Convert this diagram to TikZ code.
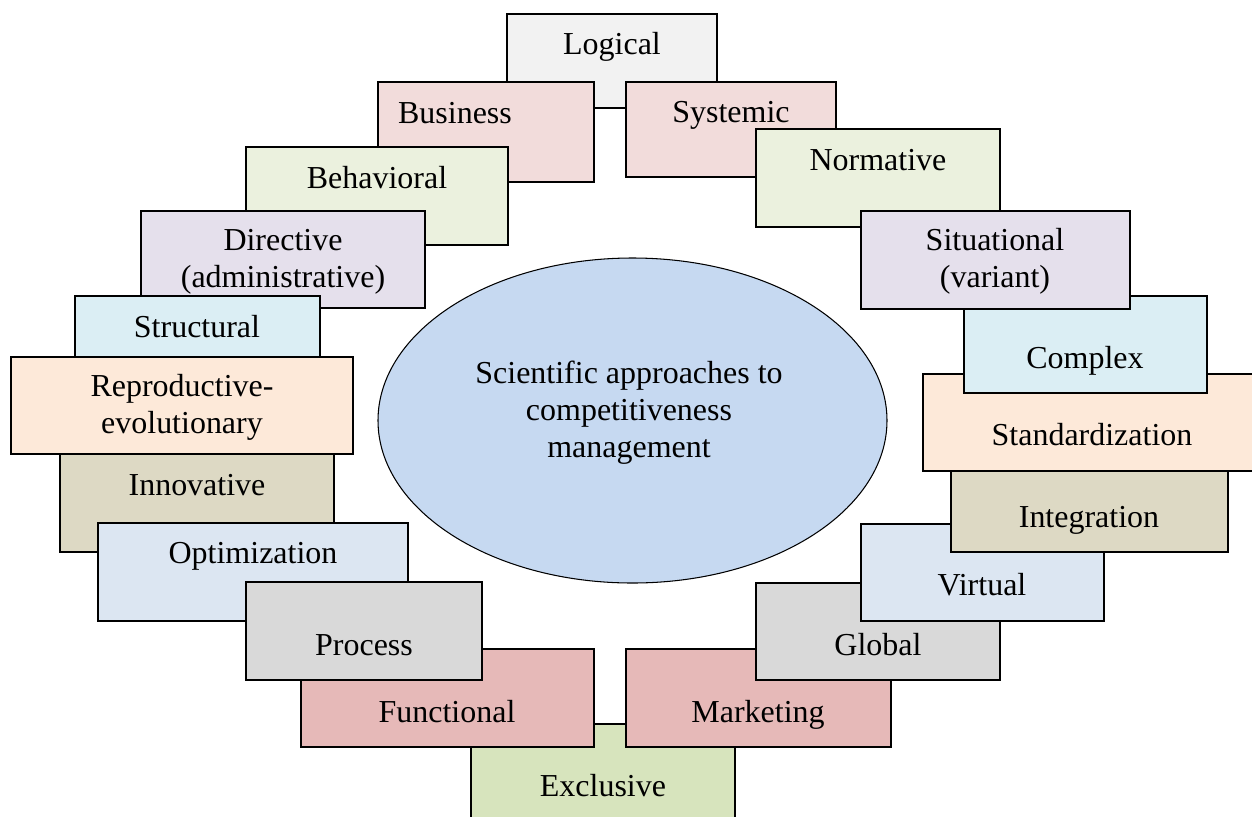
\documentclass[tikz,border=0pt]{standalone}
\usepackage{fontspec}
\setmainfont{Liberation Serif}
\usepackage{tikz}
\usetikzlibrary{positioning,shapes.geometric}
\definecolor{cLogical}{HTML}{F2F2F2}
\definecolor{cBusiness}{HTML}{F2DCDB}
\definecolor{cBehav}{HTML}{EBF1DE}
\definecolor{cDirect}{HTML}{E5E0EC}
\definecolor{cStruct}{HTML}{DBEEF4}
\definecolor{cRepro}{HTML}{FDE9D9}
\definecolor{cInnov}{HTML}{DDD9C4}
\definecolor{cOptim}{HTML}{DCE6F2}
\definecolor{cProc}{HTML}{D9D9D9}
\definecolor{cFunc}{HTML}{E6B9B8}
\definecolor{cExcl}{HTML}{D7E4BD}
\definecolor{cCore}{HTML}{C6D9F1}
% one approach: box (x1,y1)-(x2,y2), colour, text with last baseline at (tx,ty)
\newcommand{\Approach}[9]{%
	\node[MyBoxes, fill=#6, minimum width={(#4-#2)*0.02cm}, minimum height={(#5-#3)*0.02cm}] (#1) at ({(#2+#4)/2},{(#3+#5)/2}) {};
	\node[MyLabels] (#1-t) at (#7,#8) {#9};}

\begin{document}
\begin{tikzpicture}[
		x=0.02cm, y=-0.02cm,
		MyBoxes/.style={draw=black, line width=0.7pt, rectangle, inner sep=0pt, outer sep=0pt},
		MyLabels/.style={anchor=base, align=center, inner sep=0pt, font=\fontsize{18.2}{21}\selectfont},
		MyCore/.style={ellipse, draw=black, line width=0.6pt, fill=cCore, inner sep=0pt}
		]

		\useasboundingbox (0,0) rectangle (1252,816);

		% left side, top to bottom
		\Approach{logical}{507}{14}{717}{108}{cLogical}{612}{54}{Logical}
		\Approach{business}{378}{82}{594}{182}{cBusiness}{455}{123}{Business}
		\Approach{behavioral}{246}{147}{508}{245}{cBehav}{377}{188}{Behavioral}
		\Approach{directive}{141}{211}{425}{308}{cDirect}{283}{287}{Directive\\(administrative)}
		\Approach{structural}{75}{296}{320}{392}{cStruct}{197}{337}{Structural}
		\Approach{innovative}{60}{430}{334}{552}{cInnov}{197}{495}{Innovative}
		\Approach{reproductive}{11}{357}{353}{454}{cRepro}{182}{433}{Reproductive-\\evolutionary}
		\Approach{optimization}{98}{523}{408}{621}{cOptim}{253}{563}{Optimization}
		\Approach{exclusive}{471}{724}{735}{822}{cExcl}{603}{796}{Exclusive}
		\Approach{functional}{301}{649}{594}{747}{cFunc}{447}{722}{Functional}
		\Approach{process}{246}{582}{482}{680}{cProc}{364}{655}{Process}

		% right side, drawn from the bottom up
		\Approach{systemic}{626}{82}{836}{177}{cBusiness}{731}{122}{Systemic}
		\Approach{normative}{756}{129}{1000}{227}{cBehav}{878}{170}{Normative}
		\Approach{marketing}{626}{649}{891}{747}{cFunc}{758}{722}{Marketing}
		\Approach{global}{756}{583}{1000}{680}{cProc}{878}{655}{Global}
		\Approach{virtual}{861}{524}{1104}{621}{cOptim}{982}{595}{Virtual}
		\Approach{integration}{951}{450}{1228}{552}{cInnov}{1089}{527}{Integration}
		\Approach{standard}{923}{374}{1262}{471}{cRepro}{1092}{445}{Standardization}
		\Approach{complex}{964}{296}{1207}{393}{cStruct}{1085}{368}{Complex}
		\Approach{situational}{861}{211}{1130}{309}{cDirect}{995}{287}{Situational\\(variant)}

		% centre
		\node[MyCore, minimum width=509*0.02cm, minimum height=325*0.02cm] (core) at (632.5,420.5) {};
		\node[MyLabels] (core-t) at (629,457) {Scientific approaches to\\competitiveness\\management};

\end{tikzpicture}
\end{document}
